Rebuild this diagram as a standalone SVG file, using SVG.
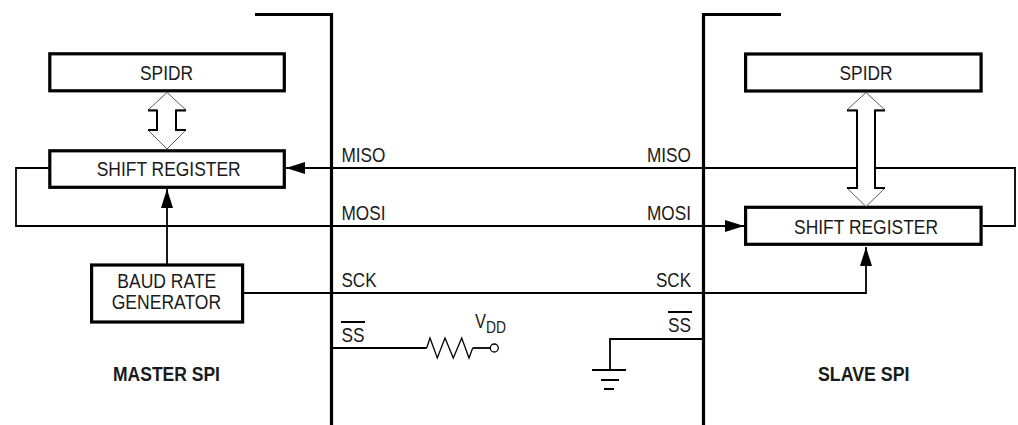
<svg xmlns="http://www.w3.org/2000/svg" width="1018" height="425" viewBox="0 0 1018 425">
<style>
text{font-family:"Liberation Sans",Arial,sans-serif;font-size:20px;fill:#1a1a1a}
.b{font-weight:bold}
.box{fill:#fff;stroke:#000;stroke-width:3.2}
.wall{fill:none;stroke:#000;stroke-width:3.2}
.w{fill:none;stroke:#000;stroke-width:1.8}
.r{fill:none;stroke:#000;stroke-width:1.3}
.head{fill:#fff;stroke:#333;stroke-width:.8}
.shaft{fill:none;stroke:#000;stroke-width:2}
</style>
<defs>
<marker id="ah" markerUnits="userSpaceOnUse" markerWidth="19" markerHeight="12" refX="19" refY="6" orient="auto"><path d="M0 0L19 6L0 12Z" fill="#000"/></marker>
</defs>
<rect width="1018" height="425" fill="#fff"/>
<g id="connectors">
<path class="w" d="M50 168H16V226H744" marker-end="url(#ah)"/>
<path class="w" d="M983 226H1015V168H286" marker-end="url(#ah)"/>
<path class="w" d="M167 264V189" marker-end="url(#ah)"/>
<path class="w" d="M243 293H866V247" marker-end="url(#ah)"/>
<path class="w" d="M332 348H426.700"/>
<path class="r" d="M426.700 348L430 338L437.300 358L445 338L453.300 358L461.700 338L469 358L472.700 348"/>
<path class="w" d="M472.700 348H490"/>
<circle class="r" cx="494.300" cy="348" r="4"/>
<path class="w" d="M703 339H610V370"/>
<path class="w" d="M592 370H626M601 380H619M604 389H614"/>
</g>
<g id="master-boundary"><path class="wall" d="M255 14.500H331.500V425"/></g>
<g id="slave-boundary"><path class="wall" d="M781 14.500H703.500V425"/></g>
<g id="master-spidr"><rect class="box" x="49.800" y="53.800" width="234.500" height="37"/><text x="140" y="80" textLength="53" lengthAdjust="spacingAndGlyphs">SPIDR</text></g>
<g id="master-shift"><rect class="box" x="49.800" y="150.800" width="234.500" height="36.500"/><text x="96.700" y="176" textLength="144" lengthAdjust="spacingAndGlyphs">SHIFT REGISTER</text></g>
<g id="baud"><rect class="box" x="91.600" y="265" width="151" height="57"/><text x="117.300" y="288.300" textLength="99" lengthAdjust="spacingAndGlyphs">BAUD RATE</text><text x="111.700" y="309.300" textLength="109.500" lengthAdjust="spacingAndGlyphs">GENERATOR</text></g>
<g id="slave-spidr"><rect class="box" x="745.600" y="54" width="235.500" height="37"/><text x="839.500" y="80" textLength="53" lengthAdjust="spacingAndGlyphs">SPIDR</text></g>
<g id="slave-shift"><rect class="box" x="745.600" y="207.300" width="235.500" height="37"/><text x="794" y="233.500" textLength="144" lengthAdjust="spacingAndGlyphs">SHIFT REGISTER</text></g>
<g id="master-arrow">
<path class="head" d="M167 92.500L148 110H157V130H148L167 149L186 130H176V110H186Z"/>
<path class="shaft" d="M148 110.500H157V130H148M186 110.500H176V130H186"/>
</g>
<g id="slave-arrow">
<path class="head" d="M866 92.500L847 110H857V188H847L866 206.500L885 188H875V110H885Z"/>
<path class="shaft" d="M847 110.500H857V188H847M885 110.500H875V188H885"/>
</g>
<g id="labels">
<text x="341.500" y="161.700" textLength="44" lengthAdjust="spacingAndGlyphs">MISO</text>
<text x="341.500" y="220" textLength="44" lengthAdjust="spacingAndGlyphs">MOSI</text>
<text x="341.500" y="286.700" textLength="35" lengthAdjust="spacingAndGlyphs">SCK</text>
<text x="341.500" y="342.300" textLength="23" lengthAdjust="spacingAndGlyphs">SS</text>
<path class="w" d="M341 322H365M668 312H692"/>
<text x="475" y="327.700" textLength="11" lengthAdjust="spacingAndGlyphs">V</text>
<text x="486" y="333.300" style="font-size:16px" textLength="20" lengthAdjust="spacingAndGlyphs">DD</text>
<text x="647" y="161.700" textLength="44" lengthAdjust="spacingAndGlyphs">MISO</text>
<text x="647" y="220" textLength="44" lengthAdjust="spacingAndGlyphs">MOSI</text>
<text x="656" y="286.700" textLength="35" lengthAdjust="spacingAndGlyphs">SCK</text>
<text x="668" y="332.300" textLength="23" lengthAdjust="spacingAndGlyphs">SS</text>
<text class="b" x="113" y="381" textLength="107" lengthAdjust="spacingAndGlyphs">MASTER SPI</text>
<text class="b" x="818" y="381" textLength="91.500" lengthAdjust="spacingAndGlyphs">SLAVE SPI</text>
</g>
</svg>
